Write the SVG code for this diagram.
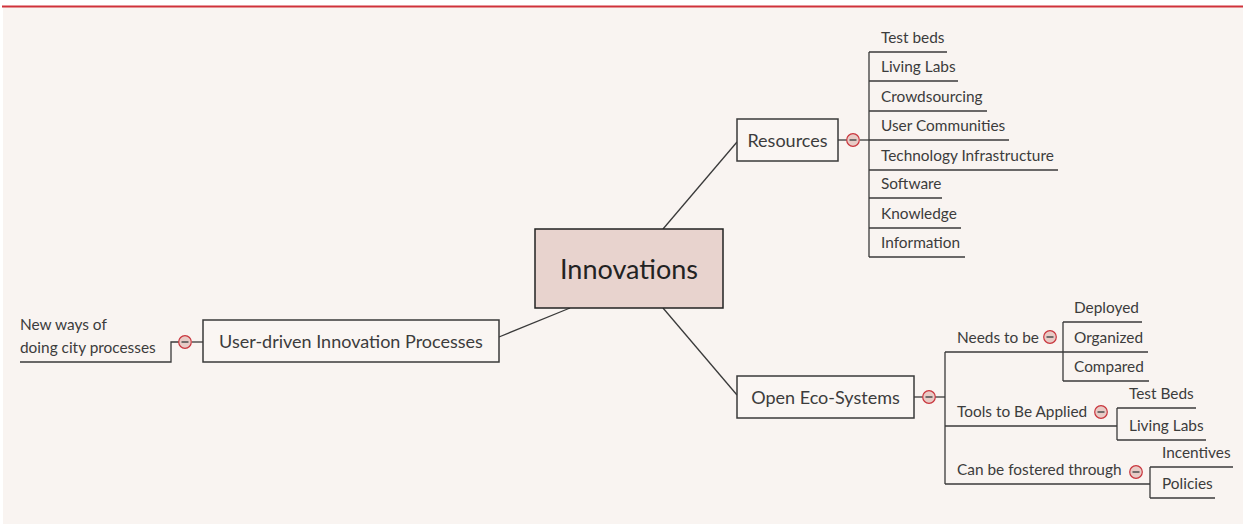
<svg xmlns="http://www.w3.org/2000/svg" width="1243" height="524" viewBox="0 0 1243 524">
<style>
.t{font-family:Lato,"Liberation Sans",sans-serif;font-size:15.4px;fill:#3c3c3c}
.m{font-family:Lato,"Liberation Sans",sans-serif;font-size:18px;fill:#3c3c3c}
.c{font-family:Lato,"Liberation Sans",sans-serif;font-size:27px;fill:#222}
.ln{stroke:#3a3a3a;stroke-width:1.3;fill:none}
.box{fill:#faf6f3;stroke:#3a3a3a;stroke-width:1.5}
.tg circle{fill:#e8cbc6;stroke:#c9353d;stroke-width:1.2}
.tg line{stroke:#555;stroke-width:1.6}
</style>
<defs>
<g id="tog" class="tg"><circle r="6.3" cx="0" cy="0"/><line x1="-3.5" y1="0" x2="3.5" y2="0"/></g>
</defs>
<rect x="3" y="6" width="1240" height="518" fill="#f9f4f1"/>
<line x1="2" y1="6.5" x2="1243" y2="6.5" stroke="#d0323b" stroke-width="1.8"/>
<g id="connectors" class="ln">
<line x1="663" y1="229" x2="737" y2="142"/>
<line x1="570" y1="308" x2="499" y2="337"/>
<line x1="663" y1="308" x2="737" y2="395"/>
<line x1="838" y1="140" x2="847" y2="140"/>
<line x1="860" y1="140" x2="869" y2="140"/>
<line x1="869" y1="52" x2="869" y2="257"/>
<line x1="869" y1="52" x2="947" y2="52"/>
<line x1="869" y1="81" x2="958" y2="81"/>
<line x1="869" y1="111" x2="987" y2="111"/>
<line x1="869" y1="140" x2="1009" y2="140"/>
<line x1="869" y1="170" x2="1058" y2="170"/>
<line x1="869" y1="198" x2="942" y2="198"/>
<line x1="869" y1="228" x2="961" y2="228"/>
<line x1="869" y1="257" x2="965" y2="257"/>
<line x1="192" y1="342" x2="203" y2="342"/>
<polyline points="179,342 171,342 171,362 20,362"/>
<line x1="914" y1="397" x2="923" y2="397"/>
<line x1="935" y1="397" x2="945" y2="397"/>
<line x1="945" y1="352" x2="945" y2="484"/>
<line x1="945" y1="352" x2="1063" y2="352"/>
<line x1="1063" y1="322" x2="1063" y2="381"/>
<line x1="1063" y1="322" x2="1142" y2="322"/>
<line x1="1063" y1="352" x2="1148" y2="352"/>
<line x1="1063" y1="381" x2="1149" y2="381"/>
<line x1="945" y1="426" x2="1117" y2="426"/>
<line x1="1117" y1="408" x2="1117" y2="440"/>
<line x1="1117" y1="408" x2="1196" y2="408"/>
<line x1="1117" y1="440" x2="1206" y2="440"/>
<line x1="945" y1="484" x2="1150" y2="484"/>
<line x1="1150" y1="467" x2="1150" y2="498"/>
<line x1="1150" y1="467" x2="1233" y2="467"/>
<line x1="1150" y1="498" x2="1215" y2="498"/>
</g>
<g id="innovations">
<rect x="535" y="229" width="188" height="79" fill="#e8d3ce" stroke="#222" stroke-width="1.5"/>
<text class="c" x="629" y="279" text-anchor="middle">Innovations</text>
</g>
<g id="resources">
<rect class="box" x="737" y="119" width="101" height="42"/>
<text class="m" x="787.5" y="147" text-anchor="middle">Resources</text>
<use href="#tog" x="853" y="140"/>
</g>
<g id="res-children">
<text class="t" x="881" y="43">Test beds</text>
<text class="t" x="881" y="72">Living Labs</text>
<text class="t" x="881" y="102">Crowdsourcing</text>
<text class="t" x="881" y="131">User Communities</text>
<text class="t" x="881" y="161">Technology Infrastructure</text>
<text class="t" x="881" y="189">Software</text>
<text class="t" x="881" y="219">Knowledge</text>
<text class="t" x="881" y="248">Information</text>
</g>
<g id="user-driven">
<rect class="box" x="203" y="320" width="296" height="42"/>
<text class="m" x="351" y="348" text-anchor="middle">User-driven Innovation Processes</text>
<use href="#tog" x="185" y="342"/>
</g>
<g id="new-ways">
<text class="t" x="20" y="330">New ways of</text>
<text class="t" x="20" y="353">doing city processes</text>
</g>
<g id="open-eco">
<rect class="box" x="737" y="376" width="177" height="42"/>
<text class="m" x="825.5" y="404" text-anchor="middle">Open Eco-Systems</text>
<use href="#tog" x="929" y="397"/>
</g>
<g id="needs">
<text class="t" x="957" y="343">Needs to be</text>
<use href="#tog" x="1050" y="337"/>
<text class="t" x="1074" y="313">Deployed</text>
<text class="t" x="1074" y="343">Organized</text>
<text class="t" x="1074" y="372">Compared</text>
</g>
<g id="tools">
<text class="t" x="957" y="417">Tools to Be Applied</text>
<use href="#tog" x="1101" y="412"/>
<text class="t" x="1129" y="399">Test Beds</text>
<text class="t" x="1129" y="431">Living Labs</text>
</g>
<g id="fostered">
<text class="t" x="957" y="475">Can be fostered through</text>
<use href="#tog" x="1136" y="472"/>
<text class="t" x="1162" y="458">Incentives</text>
<text class="t" x="1162" y="489">Policies</text>
</g>
</svg>
